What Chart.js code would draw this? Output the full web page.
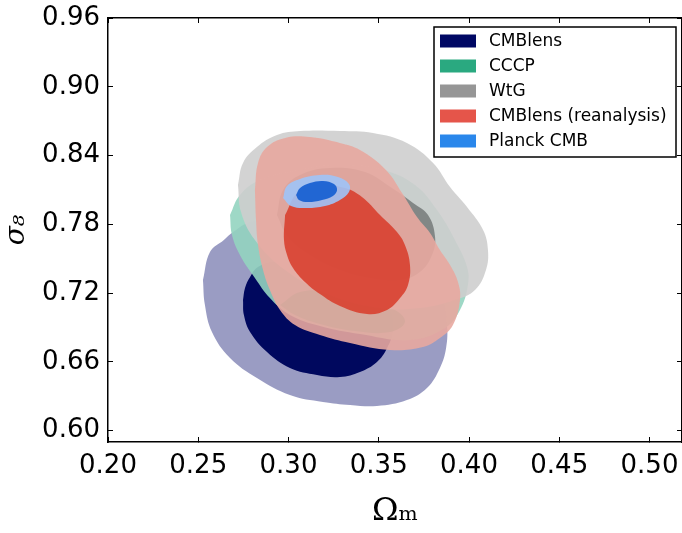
<!DOCTYPE html>
<html><head><meta charset="utf-8">
<script src="https://cdn.jsdelivr.net/npm/chart.js@4.4.0/dist/chart.umd.min.js"></script>
<style>html,body{margin:0;padding:0;background:#fff;}canvas{display:block;}</style>
</head><body>
<canvas id="c" width="682" height="533"></canvas>
<script>
// ---- axis ranges and tick labels ----
const xTicks = [0.20, 0.25, 0.30, 0.35, 0.40, 0.45, 0.50];
const yTicks = [0.60, 0.66, 0.72, 0.78, 0.84, 0.90, 0.96];
const xRange = [0.20, 0.518];
const yRange = [0.59, 0.96];

// ---- legend ----
const legendLabels = ['CMBlens', 'CCCP', 'WtG', 'CMBlens (reanalysis)', 'Planck CMB'];
const legendColors = ['#000864', '#2aa980', '#969696', '#e5554a', '#2a87eb'];

// ---- contour outlines, [Omega_m, sigma_8] ----
const cmblensOuter = [[0.2526,0.7314],[0.2537,0.7095],[0.2576,0.6860],[0.2676,0.6633],[0.2825,0.6459],[0.3008,0.6310],[0.3191,0.6249],[0.3341,0.6223],[0.3490,0.6214],[0.3656,0.6266],[0.3767,0.6371],[0.3839,0.6546],[0.3873,0.6720],[0.3878,0.6921],[0.3850,0.7183],[0.3756,0.7444],[0.3562,0.7663],[0.3285,0.7837],[0.3008,0.7881],[0.2787,0.7820],[0.2693,0.7732],[0.2642,0.7663],[0.2565,0.7558]];
const cmblensInner = [[0.2748,0.7139],[0.2753,0.7008],[0.2787,0.6860],[0.2881,0.6685],[0.3008,0.6546],[0.3158,0.6485],[0.3285,0.6467],[0.3396,0.6511],[0.3490,0.6598],[0.3546,0.6720],[0.3579,0.6877],[0.3562,0.7052],[0.3479,0.7209],[0.3313,0.7331],[0.3119,0.7418],[0.2925,0.7471],[0.2831,0.7427],[0.2787,0.7340],[0.2759,0.7244]];
const cccpOuter = [[0.2676,0.7881],[0.2731,0.8055],[0.2842,0.8186],[0.3064,0.8274],[0.3285,0.8317],[0.3524,0.8274],[0.3701,0.8143],[0.3823,0.7924],[0.3922,0.7663],[0.3989,0.7427],[0.3994,0.7270],[0.3950,0.7052],[0.3867,0.6895],[0.3673,0.6790],[0.3396,0.6842],[0.3174,0.6912],[0.3008,0.7008],[0.2897,0.7156],[0.2814,0.7331],[0.2731,0.7532],[0.2687,0.7706]];
const cccpInner = [[0.2953,0.7095],[0.3064,0.7209],[0.3230,0.7209],[0.3424,0.7139],[0.3590,0.7052],[0.3645,0.6947],[0.3562,0.6860],[0.3368,0.6869],[0.3174,0.6930],[0.3036,0.7008]];
const wtgOuter = [[0.2720,0.8143],[0.2748,0.8335],[0.2825,0.8474],[0.2936,0.8579],[0.3064,0.8614],[0.3285,0.8614],[0.3468,0.8596],[0.3656,0.8509],[0.3801,0.8335],[0.3895,0.8125],[0.3989,0.7951],[0.4078,0.7750],[0.4105,0.7575],[0.4094,0.7401],[0.4033,0.7226],[0.3922,0.7139],[0.3728,0.7069],[0.3507,0.7069],[0.3230,0.7183],[0.2981,0.7401],[0.2814,0.7663],[0.2737,0.7907]];
const wtgInner = [[0.2936,0.7881],[0.2970,0.8099],[0.3064,0.8230],[0.3230,0.8291],[0.3424,0.8256],[0.3573,0.8116],[0.3690,0.7986],[0.3773,0.7881],[0.3812,0.7689],[0.3795,0.7532],[0.3728,0.7383],[0.3618,0.7314],[0.3451,0.7331],[0.3285,0.7401],[0.3119,0.7532],[0.2997,0.7689]];
const reanOuter = [[0.2814,0.8099],[0.2820,0.7837],[0.2831,0.7619],[0.2859,0.7401],[0.2897,0.7226],[0.2953,0.7052],[0.3036,0.6921],[0.3174,0.6834],[0.3341,0.6764],[0.3562,0.6703],[0.3745,0.6729],[0.3839,0.6807],[0.3911,0.6921],[0.3950,0.7139],[0.3939,0.7296],[0.3895,0.7444],[0.3839,0.7575],[0.3784,0.7724],[0.3712,0.7863],[0.3629,0.8073],[0.3540,0.8274],[0.3396,0.8448],[0.3285,0.8509],[0.3119,0.8561],[0.2981,0.8553],[0.2881,0.8474],[0.2831,0.8335]];
const reanInner = [[0.2981,0.7881],[0.2975,0.7663],[0.2992,0.7532],[0.3025,0.7418],[0.3091,0.7296],[0.3174,0.7191],[0.3285,0.7087],[0.3435,0.7017],[0.3546,0.7052],[0.3618,0.7156],[0.3662,0.7270],[0.3673,0.7444],[0.3645,0.7619],[0.3601,0.7732],[0.3507,0.7881],[0.3407,0.8038],[0.3313,0.8116],[0.3174,0.8143],[0.3053,0.8082]];
const planckOuter = [[0.2970,0.8029],[0.2992,0.8134],[0.3064,0.8195],[0.3174,0.8230],[0.3274,0.8212],[0.3335,0.8151],[0.3335,0.8082],[0.3285,0.8012],[0.3202,0.7959],[0.3102,0.7942],[0.3014,0.7959]];
const planckInner = [[0.3042,0.8055],[0.3064,0.8116],[0.3119,0.8160],[0.3191,0.8178],[0.3252,0.8151],[0.3269,0.8099],[0.3246,0.8047],[0.3186,0.8012],[0.3108,0.7994],[0.3058,0.8012]];

// draw order: first = bottom
const layers = [
  {label: 'CMBlens 95%', data: cmblensOuter, color: 'rgba(143,145,189,0.9)'},
  {label: 'CMBlens 68%', data: cmblensInner, color: 'rgba(0,8,94,1)'},
  {label: 'CCCP 95%', data: cccpOuter, color: 'rgba(147,212,192,0.9)'},
  {label: 'CCCP 68%', data: cccpInner, color: 'rgba(40,165,125,0.9)'},
  {label: 'WtG 95%', data: wtgOuter, color: 'rgba(206,206,206,0.9)'},
  {label: 'WtG 68%', data: wtgInner, color: 'rgba(122,128,126,0.9)'},
  {label: 'CMBlens (reanalysis) 95%', data: reanOuter, color: 'rgba(232,169,160,0.9)'},
  {label: 'CMBlens (reanalysis) 68%', data: reanInner, color: 'rgba(216,64,48,0.9)'},
  {label: 'Planck CMB 95%', data: planckOuter, color: 'rgba(158,196,248,0.9)'},
  {label: 'Planck CMB 68%', data: planckInner, color: 'rgba(25,97,210,0.95)'}
];

const closeLoop = a => a.concat([a[0]]).map(p => ({x: p[0], y: p[1]}));

const datasets = layers.map((l, i) => ({
  label: l.label,
  data: closeLoop(l.data),
  fill: 'shape',
  backgroundColor: l.color,
  borderColor: 'rgba(0,0,0,0)',
  borderWidth: 0,
  pointRadius: 0,
  pointHoverRadius: 0,
  tension: 0.4,
  order: layers.length - i
}));

const gridOpts = {drawOnChartArea: false, drawTicks: true, tickLength: -5, color: '#000', lineWidth: 1};
const borderOpts = {display: true, color: '#000', width: 1.5};
const setTicks = arr => (s => { s.ticks = arr.map(v => ({value: v})); });

const legendBox = {
  id: 'legendBox',
  afterDraw(chart) {
    const {ctx, chartArea} = chart;
    const w = 242, h = 130;
    const left = Math.round(chartArea.right - 6 - w), top = Math.round(chartArea.top + 9);
    ctx.save();
    ctx.fillStyle = '#fff';
    ctx.fillRect(left, top, w, h);
    ctx.strokeStyle = '#000';
    ctx.lineWidth = 1.5;
    ctx.strokeRect(left, top, w, h);
    ctx.font = '17px "DejaVu Sans"';
    ctx.textBaseline = 'middle';
    ctx.textAlign = 'left';
    legendLabels.forEach((lab, i) => {
      const cy = top + 14 + i * 25;
      ctx.fillStyle = legendColors[i];
      ctx.fillRect(left + 6, cy - 6.5, 36, 13);
      ctx.fillStyle = '#000';
      ctx.fillText(lab, left + 55, cy + 1);
    });
    ctx.restore();
  }
};

new Chart(document.getElementById('c'), {
  type: 'line',
  data: {datasets},
  options: {
    responsive: false,
    animation: false,
    devicePixelRatio: 1,
    events: [],
    layout: {padding: {top: 18, left: 0, right: 0, bottom: 0}},
    plugins: {legend: {display: false}, tooltip: {enabled: false}},
    scales: {
      x: {
        type: 'linear', position: 'bottom', min: xRange[0], max: xRange[1],
        afterBuildTicks: setTicks(xTicks),
        afterFit: s => { s.height = 91; s.paddingLeft = 0; s.paddingRight = 0; },
        grid: gridOpts, border: borderOpts,
        ticks: {font: {family: 'DejaVu Sans', size: 26}, color: '#000', padding: 14, autoSkip: false, maxRotation: 0,
                callback: v => Number(v).toFixed(2)},
        title: {display: true, text: 'Ωₘ', color: '#000', font: {family: 'DejaVu Serif', size: 32}, padding: {top: 0, bottom: 2}}
      },
      xTop: {
        type: 'linear', position: 'top', min: xRange[0], max: xRange[1],
        afterBuildTicks: setTicks(xTicks),
        afterFit: s => { s.height = 0; s.paddingLeft = 0; s.paddingRight = 0; },
        grid: gridOpts, border: borderOpts, ticks: {display: false}
      },
      y: {
        type: 'linear', position: 'left', min: yRange[0], max: yRange[1],
        afterBuildTicks: setTicks(yTicks),
        afterFit: s => { s.width = 108; s.paddingTop = 0; s.paddingBottom = 0; },
        grid: gridOpts, border: borderOpts,
        ticks: {font: {family: 'DejaVu Sans', size: 26}, color: '#000', padding: 13, autoSkip: false,
                callback: v => Number(v).toFixed(2)},
        title: {display: true, text: 'σ₈', color: '#000', font: {family: 'DejaVu Serif', size: 28, style: 'italic'}, padding: {top: 0, bottom: 0}}
      },
      yRight: {
        type: 'linear', position: 'right', min: yRange[0], max: yRange[1],
        afterBuildTicks: setTicks(yTicks),
        afterFit: s => { s.width = 0; s.paddingTop = 0; s.paddingBottom = 0; },
        grid: gridOpts, border: borderOpts, ticks: {display: false}
      }
    }
  },
  plugins: [legendBox]
});
</script>
</body></html>
